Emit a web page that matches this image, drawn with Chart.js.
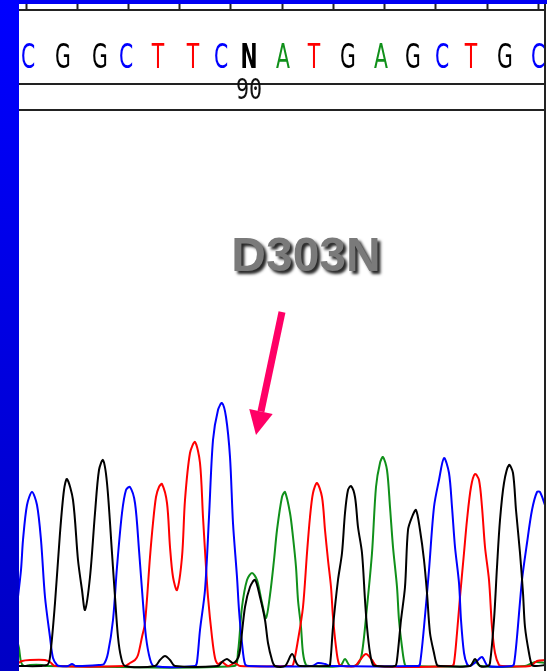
<!DOCTYPE html>
<html>
<head>
<meta charset="utf-8">
<script src="https://cdn.jsdelivr.net/npm/chart.js@4"></script>
<style>
  html, body { margin: 0; padding: 0; background: #fff; }
  #wrap { position: absolute; left: 0; top: 0; width: 547px; height: 671px; background: #fff; overflow: hidden; }
  #bar  { position: absolute; left: 0; top: 0; width: 19px; height: 671px; background: linear-gradient(#0000ff, #0000c4); }
  #band { position: absolute; left: 0; top: 0; width: 547px; height: 4px; background: #0000f4; }
  #box  { position: absolute; left: 0; top: 0; width: 547px; height: 671px; }
</style>
</head>
<body>
<div id="wrap">
  <div id="box"><canvas id="chrom"></canvas></div>
  <div id="band"></div>
  <div id="bar"></div>
</div>
<script>
// 크로마토그램: 채널별 (스캔 위치, 신호) 샘플 — 그림에서 읽은 값
const traceC = [ // blue
  [17,61],[21,96],[23,126],[27,161],[32,174],[37,161],[41,126],[45,69],[50,29],[53,8],[57,1],[60,0],
  [68,0],[72,2],[76,0],[100,1],[104,2],[108,13],[113,46],[117,99],[122,153],[126,176],[130,179],
  [135,163],[139,550 - 434],[143,63],[146,29],[150,7],[154,0],[195,0],[197,4],[200,36],[205,76],
  [209,149],[213,226],[218,256],[222,263],[226,249],[230,209],[233,143],[237,89],[239,56],[242,23],
  [245,2],[249,0],[312,0],[318,3],[325,2],[330,0],[418,0],[420,2],[424,39],[429,96],[434,159],
  [439,186],[444,208],[449,193],[452,159],[455,119],[459,83],[461,46],[464,13],[467,2],[470,0],
  [476,4],[482,9],[488,0],[512,0],[514,2],[517,29],[522,86],[527,123],[532,156],[537,174],[540,174],[546,158]
];
const traceG = [ // black
  [17,0],[47,1],[50,9],[55,63],[60,133],[64,176],[67,187],[73,166],[78,106],[82,76],[85,56],[90,89],
  [95,153],[99,196],[103,206],[107,183],[112,113],[115,69],[118,29],[121,9],[125,0],[155,0],[160,6],
  [165,10],[170,6],[175,0],[218,0],[222,4],[227,7],[233,3],[238,8],[240,16],[245,59],[250,79],
  [255,86],[260,69],[265,46],[268,23],[272,6],[275,0],[285,0],[292,12],[297,2],[300,0],[328,0],
  [330,1],[333,39],[338,86],[342,113],[345,153],[348,176],[351,180],[355,169],[358,139],[362,113],
  [365,66],[367,39],[370,13],[373,1],[376,0],[395,0],[397,6],[401,46],[405,79],[408,136],[412,149],
  [416,156],[420,136],[424,106],[427,73],[430,33],[434,13],[437,1],[440,0],[470,0],[475,7],[480,0],
  [488,0],[490,3],[494,46],[497,99],[500,146],[504,183],[509,201],[513,193],[516,156],[520,113],
  [523,73],[525,39],[529,13],[532,1],[536,0],[546,1]
];
const traceT = [ // red
  [17,2],[22,5],[30,6],[45,6],[50,4],[55,0],[125,0],[130,3],[135,6],[138,11],[142,29],[145,43],
  [150,109],[153,143],[156,169],[159,179],[162,182],[167,163],[170,119],[173,89],[177,76],[182,109],
  [185,166],[190,213],[195,224],[200,203],[203,149],[206,99],[208,69],[212,29],[215,8],[218,2],
  [222,4],[228,0],[235,3],[240,0],[290,0],[293,1],[298,26],[303,59],[307,113],[310,149],[313,173],
  [317,183],[322,169],[325,136],[328,106],[331,79],[333,49],[336,19],[339,2],[343,0],[355,0],
  [360,6],[366,12],[372,6],[377,0],[452,0],[454,3],[457,33],[460,69],[464,113],[467,146],[471,179],
  [475,192],[479,186],[482,159],[485,119],[489,86],[492,39],[495,13],[499,1],[502,0],[530,0],
  [537,5],[546,6]
];
const traceA = [ // green
  [17,26],[19,18],[21,4],[24,0],[30,1],[42,1],[46,0],[234,0],[238,14],[242,59],[247,86],[252,93],
  [257,86],[262,63],[266,48],[270,71],[274,106],[277,136],[282,169],[285,174],[290,153],[293,129],
  [296,99],[298,66],[301,39],[303,13],[306,1],[310,0],[340,0],[345,7],[350,0],[358,2],[362,13],
  [367,59],[372,113],[376,179],[380,203],[383,209],[387,196],[390,159],[393,119],[397,79],[399,46],
  [402,19],[405,1],[408,0],[470,0],[475,5],[480,0],[525,0],[535,4],[546,3]
];

// 염기 호출 (위치, 문자)
const basePos     = [28, 63, 100, 126, 158, 193, 221, 249, 283, 314, 348, 381, 413, 442, 471, 505, 538];
const baseLetters = ['C','G','G','C','T','T','C','N','A','T','G','A','G','C','T','G','C'];
const tickPos     = [26, 77, 128, 179, 230, 282, 333, 384, 435, 487, 538];
const numberLabel = { pos: 249, text: '90' };

// 주석: 변이명 + 화살표 (데이터 좌표)
const mutationLabel = 'D303N';
const labelAt   = [306, 395];
const arrowFrom = [282, 354];
const arrowTo   = [256, 231];

const BASE_COLOR = { A: '#10901a', C: '#0000ff', G: '#000000', T: '#ff0000', N: '#000000' };
const toXY = arr => arr.map(([x, y]) => ({ x, y }));

const header = {
  id: 'header',
  afterDraw(chart) {
    const { ctx } = chart;
    const xs = chart.scales.x, ys = chart.scales.y;
    ctx.save();
    ctx.strokeStyle = '#222';
    ctx.lineWidth = 2;
    ctx.beginPath();
    ctx.moveTo(19, 10); ctx.lineTo(545, 10);
    ctx.moveTo(19, 84); ctx.lineTo(545, 84);
    ctx.moveTo(19, 110); ctx.lineTo(545, 110);
    ctx.moveTo(545, 4); ctx.lineTo(545, 671);
    tickPos.forEach(p => {
      const px = Math.round(xs.getPixelForValue(p)) + 0.5;
      ctx.moveTo(px, 4); ctx.lineTo(px, 10);
    });
    ctx.stroke();

    // 염기 문자
    ctx.textAlign = 'center';
    ctx.textBaseline = 'alphabetic';
    baseLetters.forEach((b, i) => {
      const px = xs.getPixelForValue(basePos[i]);
      ctx.save();
      ctx.translate(px, 68);
      ctx.scale(0.6, 1);
      ctx.font = (b === 'N' ? 'bold ' : '') + '34px "DejaVu Sans"';
      ctx.fillStyle = BASE_COLOR[b];
      ctx.fillText(b, 0, 0);
      ctx.restore();
    });

    // 번호
    ctx.save();
    ctx.translate(xs.getPixelForValue(numberLabel.pos), 99);
    ctx.scale(0.75, 1);
    ctx.font = '29px "DejaVu Sans Mono"';
    ctx.fillStyle = '#111';
    ctx.fillText(numberLabel.text, 0, 0);
    ctx.restore();

    // 변이명
    ctx.font = 'bold 48px "Liberation Sans", Arial, sans-serif';
    ctx.shadowColor = 'rgba(0,0,0,0.85)';
    ctx.shadowOffsetX = 3;
    ctx.shadowOffsetY = 3;
    ctx.shadowBlur = 3;
    ctx.fillStyle = '#7a7a7a';
    ctx.fillText(mutationLabel, xs.getPixelForValue(labelAt[0]), ys.getPixelForValue(labelAt[1]));
    ctx.shadowColor = 'transparent';

    // 화살표
    const x0 = xs.getPixelForValue(arrowFrom[0]), y0 = ys.getPixelForValue(arrowFrom[1]);
    const x1 = xs.getPixelForValue(arrowTo[0]),   y1 = ys.getPixelForValue(arrowTo[1]);
    const ang = Math.atan2(y1 - y0, x1 - x0);
    const head = 24, half = 12;
    const bx = x1 - head * Math.cos(ang), by = y1 - head * Math.sin(ang);
    ctx.strokeStyle = '#ff0066';
    ctx.fillStyle = '#ff0066';
    ctx.lineWidth = 7;
    ctx.beginPath();
    ctx.moveTo(x0, y0); ctx.lineTo(bx, by);
    ctx.stroke();
    ctx.beginPath();
    ctx.moveTo(x1, y1);
    ctx.lineTo(bx + half * Math.sin(ang), by - half * Math.cos(ang));
    ctx.lineTo(bx - half * Math.sin(ang), by + half * Math.cos(ang));
    ctx.closePath();
    ctx.fill();
    ctx.restore();
  }
};

const line = (data, color) => ({
  data: toXY(data),
  borderColor: color,
  borderWidth: 2,
  pointRadius: 0,
  tension: 0.3,
  fill: false,
});

new Chart(document.getElementById('chrom'), {
  type: 'line',
  data: {
    datasets: [
      line(traceG, '#000000'),
      line(traceC, '#0000ff'),
      line(traceT, '#ff0000'),
      line(traceA, '#10901a'),
    ]
  },
  options: {
    responsive: true,
    maintainAspectRatio: false,
    animation: false,
    layout: { padding: { left: 19, right: 2, top: 110, bottom: 0 } },
    plugins: { legend: { display: false }, tooltip: { enabled: false } },
    scales: {
      x: { type: 'linear', min: 19, max: 545, display: false },
      y: { min: -5, max: 556, display: false },
    }
  },
  plugins: [header]
});
</script>
</body>
</html>
